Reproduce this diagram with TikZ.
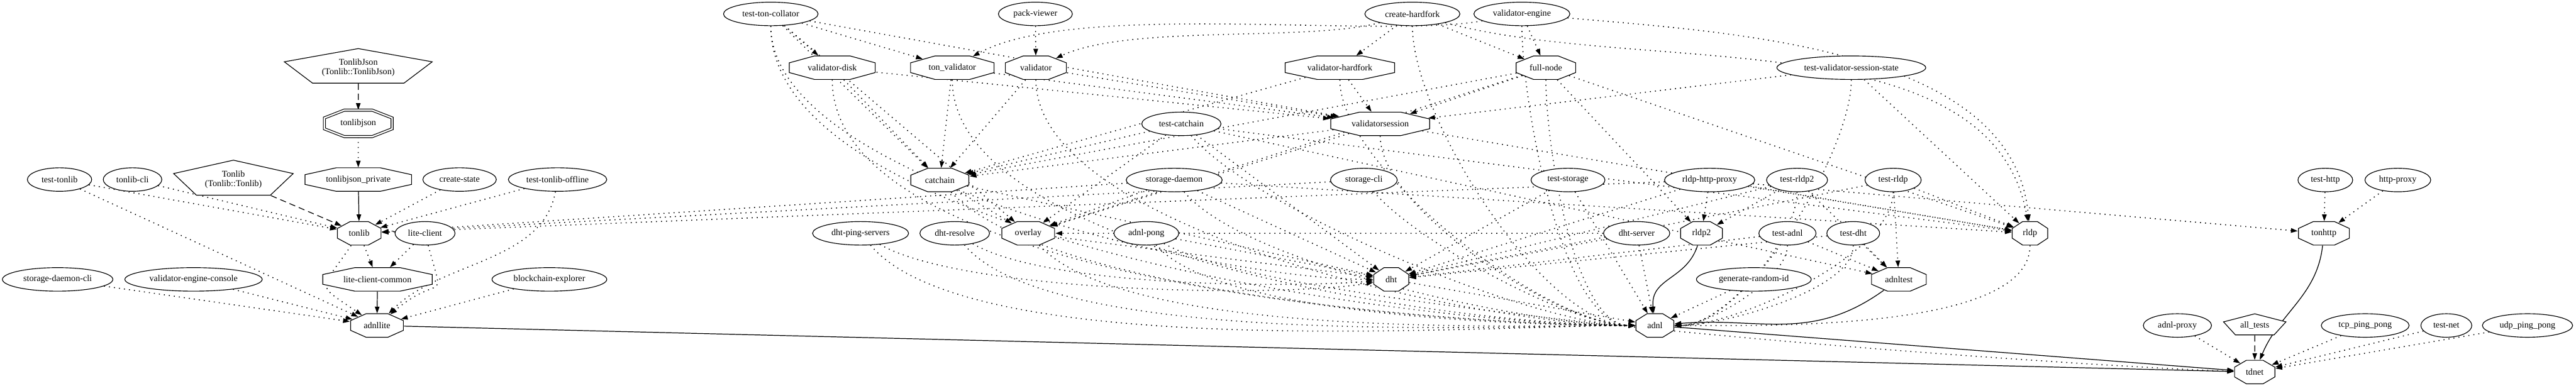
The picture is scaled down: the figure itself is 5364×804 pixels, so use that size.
\documentclass[tikz,border=0pt]{standalone}
\usepackage{fontspec}
\setmainfont{Liberation Serif}
\usetikzlibrary{shapes.geometric,arrows.meta,backgrounds}

\tikzset{
  lib/.style={draw, fill=white, line width=.3pt, regular polygon, regular polygon sides=8, inner sep=0pt, minimum size=10.6pt, transform shape},
  iface/.style={draw, fill=white, line width=.3pt, regular polygon, regular polygon sides=5, inner sep=0pt, transform shape},
  exe/.style={draw, fill=white, line width=.3pt, ellipse, inner sep=0pt, minimum height=9.8pt, minimum width=#1*0.2pt},
  priv/.style={line width=.4pt, dash pattern=on .4pt off 1.7pt, -{Triangle[length=2.8pt,width=1.9pt]}},
  pub/.style={line width=.32pt, solid, -{Triangle[length=2.8pt,width=1.9pt]}},
  ifc/.style={line width=.32pt, dash pattern=on 2.6pt off 1.6pt, -{Triangle[length=2.8pt,width=1.9pt]}},
  tol/.style={out=-90, in=180, distance=#1},
  tolm/.style={out=-50, in=180, distance=#1},
  tor/.style={out=-90, in=0, distance=#1}
}
% octagon: name, position, width, text
\newcommand{\octnode}[4]{\node[lib, xscale=#3/49] (#1) at (#2) {\pgfmathsetmacro\octsx{49/#3}\scalebox{\octsx}[1]{#4}};}
% pentagon: name, position, width, height, text
\newcommand{\pentnode}[5]{\node[iface, minimum size=#4*0.2/0.9045, xscale=0.951*#3/#4] (#1) at (#2) {\pgfmathsetmacro\octsx{#4/(0.951*#3)}\scalebox{\octsx}[1]{#5}};}

\begin{document}
\begin{tikzpicture}[x=.2pt, y=-.2pt, font=\fontsize{3.7}{4}\selectfont]
\useasboundingbox (0,0) rectangle (5364,804);

% tonlib side
\pentnode{tonlibjsonalias}{746,141}{308}{72}{\begin{tabular}{@{}c@{}}TonlibJson\\(Tonlib::TonlibJson)\end{tabular}}
\node[lib, double, double distance=.6pt, minimum size=11.9pt, xscale=141/55] (tonlibjson) at (746,257) {\scalebox{0.39}[1]{tonlibjson}};
\octnode{tonlibjsonprivate}{746,374}{222}{tonlibjson\_private}
\node[exe=134] (testtonlib) at (124,374) {test-tonlib};
\node[exe=122] (tonlibcli) at (276,374) {tonlib-cli};
\pentnode{tonlibalias}{486,374}{249}{73}{\begin{tabular}{@{}c@{}}Tonlib\\(Tonlib::Tonlib)\end{tabular}}
\node[exe=153] (createstate) at (957,374) {create-state};
\node[exe=205] (testtonliboffline) at (1161,374) {test-tonlib-offline};
\octnode{tonlib}{748,486}{91}{tonlib}
\node[exe=125] (liteclient) at (885,486) {lite-client};
\octnode{litecommon}{786,582}{228}{lite-client-common}
\node[exe=230] (sdcli) at (120,582) {storage-daemon-cli};
\node[exe=286] (vecons) at (403,582) {validator-engine-console};
\node[exe=239] (explorer) at (1144,582) {blockchain-explorer};
\octnode{adnllite}{785,678}{110}{adnllite}

% validators
\node[exe=197] (testcollator) at (1605,29) {test-ton-collator};
\node[exe=154] (packviewer) at (2156,29) {pack-viewer};
\node[exe=198] (createhardfork) at (2941,29) {create-hardfork};
\node[exe=200] (vengine) at (3169,29) {validator-engine};
\octnode{vdisk}{1733,141}{179}{validator-disk}
\octnode{tonvalidator}{1983,141}{174}{ton\_validator}
\octnode{validator}{2157,141}{127}{validator}
\octnode{vhardfork}{2790,141}{228}{validator-hardfork}
\octnode{fullnode}{3219,141}{124}{full-node}
\node[exe=310] (testvss) at (3855,141) {test-validator-session-state};
\node[exe=165] (testcatchain) at (2460,258) {test-catchain};
\octnode{vsession}{2874,258}{206}{validatorsession}
\octnode{catchain}{1957,375}{121}{catchain}
\node[exe=200] (storaged) at (2445,375) {storage-daemon};
\node[exe=139] (storagecli) at (2840,375) {storage-cli};
\node[exe=154] (teststorage) at (3265,375) {test-storage};
\node[exe=188] (rhproxy) at (3560,375) {rldp-http-proxy};
\node[exe=127] (testrldp2) at (3742,375) {test-rldp2};
\node[exe=117] (testrldp) at (3942,375) {test-rldp};
\node[exe=114] (testhttp) at (4842,375) {test-http};
\node[exe=137] (httpproxy) at (4993,375) {http-proxy};

% network
\node[exe=200] (dhtping) at (1792,486) {dht-ping-servers};
\node[exe=145] (dhtresolve) at (1988,486) {dht-resolve};
\octnode{overlay}{2141,486}{110}{overlay}
\node[exe=135] (adnlpong) at (2387,486) {adnl-pong};
\node[exe=138] (dhtserver) at (3408,486) {dht-server};
\octnode{rldp2}{3543,486}{87}{rldp2}
\node[exe=119] (testadnl) at (3722,486) {test-adnl};
\node[exe=110] (testdht) at (3859,486) {test-dht};
\octnode{rldp}{4227,486}{74}{rldp}
\octnode{tonhttp}{4839,486}{106}{tonhttp}
\octnode{dht}{2897,582}{73}{dht}
\node[exe=239] (genid) at (3652,582) {generate-random-id};
\octnode{adnltest}{3954,582}{114}{adnltest}
\octnode{adnl}{3446,678}{79}{adnl}
\node[exe=142] (adnlproxy) at (4534,678) {adnl-proxy};
\pentnode{alltests}{4695,678}{130}{44}{all\_tests}
\node[exe=183] (tcpping) at (4925,678) {tcp\_ping\_pong};
\node[exe=106] (testnet) at (5094,678) {test-net};
\node[exe=188] (udpping) at (5263,678) {udp\_ping\_pong};
\octnode{tdnet}{4695,775}{84}{tdnet}

\begin{pgfonlayer}{background}
\path[priv]
  (tonlibjsonalias) edge[ifc] (tonlibjson)
  (tonlibjson) edge (tonlibjsonprivate)
  (tonlibjsonprivate) edge[pub] (tonlib)
  (tonlibalias) edge[ifc] (tonlib)
  (testtonlib) edge (tonlib) edge (adnllite)
  (tonlibcli) edge (tonlib)
  (createstate) edge (tonlib)
  (testtonliboffline) edge (tonlib) edge[out=-100,in=50,distance=30pt] (adnllite)
  (tonlib) edge (litecommon) edge[out=-120,in=140,distance=23pt] (adnllite)
  (liteclient) edge (litecommon) edge[out=-75,in=45,distance=27pt] (adnllite)
  (litecommon) edge[pub] (adnllite)
  (sdcli) edge (adnllite)
  (vecons) edge (adnllite)
  (explorer) edge (adnllite)
  (adnllite) edge[pub] (tdnet);

\path[priv]
  (testcollator) edge (vdisk) edge (tonvalidator) edge (vsession) edge (catchain) edge (overlay) edge[tol=64pt] (dht) edge[tol=89pt] (adnl)
  (packviewer) edge (validator)
  (vengine) edge[out=-170,in=35,distance=44pt] (tonvalidator) edge (fullnode) edge[tol=31pt] (adnl) edge[out=-5,in=95,distance=72pt] (rldp)
  (createhardfork) edge (vhardfork) edge (fullnode) edge[out=-165,in=30,distance=31pt] (validator) edge[tol=38pt] (adnl) edge[out=-15,in=100,distance=86pt] (rldp)
  (vdisk) edge (vsession) edge (catchain) edge[tol=84pt] (adnl)
  (tonvalidator) edge (vsession) edge (catchain) edge[tol=73pt] (adnl)
  (validator) edge (vsession) edge (catchain) edge[tol=63pt] (adnl)
  (vhardfork) edge (vsession) edge (catchain) edge[tol=37pt] (adnl)
  (fullnode) edge (vsession) edge (catchain) edge (overlay) edge (rldp) edge (rldp2) edge[tol=26pt] (adnl)
  (testvss) edge (vsession) edge (rldp) edge[tor=30pt] (adnl)
  (vsession) edge (catchain) edge (overlay) edge (rldp) edge[tol=31pt] (adnl)
  (testcatchain) edge (catchain) edge (overlay) edge (dht) edge (adnltest) edge (rldp) edge[tolm=41pt] (adnl)
  (catchain) edge (overlay) edge (dht) edge[tolm=59pt] (adnl)
  (overlay) edge (dht) edge[tolm=52pt] (adnl)
  (dhtping) edge[out=-30,in=190,distance=40pt] (dht) edge[tolm=64pt] (adnl)
  (dhtresolve) edge[out=-30,in=185,distance=36pt] (dht) edge[tolm=56pt] (adnl)
  (adnlpong) edge (dht) edge[tolm=40pt] (adnl) edge[out=-30,in=178,distance=60pt] (tdnet)
  (storaged) edge (tonlib) edge (overlay) edge (dht) edge[tolm=41pt] (adnl) edge (rldp)
  (storagecli) edge (tonlib) edge[tolm=27pt] (adnl)
  (teststorage) edge (dht) edge (adnl)
  (dhtserver) edge (overlay) edge (dht) edge (adnl)
  (rhproxy) edge (tonlib) edge (rldp2) edge (rldp) edge (tonhttp) edge (dht)
  (testrldp2) edge (rldp2) edge (adnltest) edge (dht) edge[tor=20pt] (adnl)
  (testrldp) edge (rldp) edge (adnltest) edge (dht) edge[tor=26pt] (adnl)
  (testadnl) edge (adnltest) edge (dht) edge[tor=14pt] (adnl)
  (testdht) edge (adnltest) edge (dht) edge[tor=19pt] (adnl)
  (genid) edge (adnl)
  (dht) edge (adnl)
  (rldp) edge[tor=36pt] (adnl)
  (rldp2) edge[pub, out=-105, in=95, distance=15pt] (adnl)
  (adnltest) edge[pub, out=-140, in=5, distance=36pt] (adnl)
  (adnl) edge[pub] (tdnet)
  (testhttp) edge (tonhttp)
  (httpproxy) edge (tonhttp)
  (tonhttp) edge[pub, out=-95, in=70, distance=21pt] (tdnet)
  (adnlproxy) edge (tdnet)
  (alltests) edge[ifc] (tdnet)
  (tcpping) edge (tdnet)
  (testnet) edge (tdnet)
  (udpping) edge (tdnet);
\end{pgfonlayer}
\end{tikzpicture}
\end{document}
